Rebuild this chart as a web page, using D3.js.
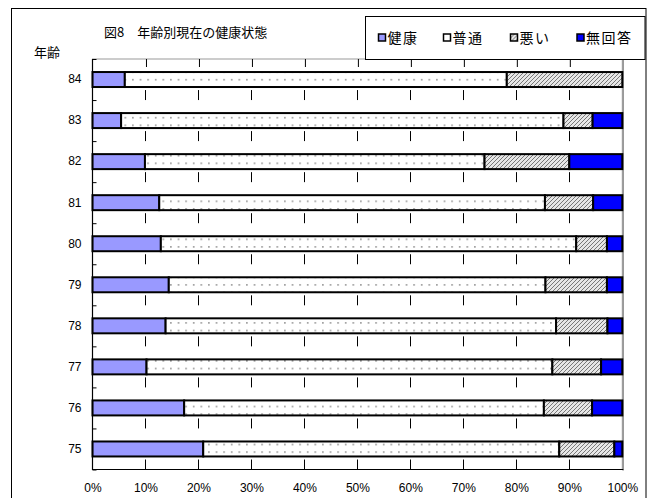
<!DOCTYPE html>
<html><head><meta charset="utf-8">
<script src="https://cdn.jsdelivr.net/npm/d3@7"></script>
<style>
html,body{margin:0;padding:0;background:#fff;}
svg text{font-family:"Liberation Sans","Noto Sans CJK JP",sans-serif;}
.jp{font-family:"Noto Sans CJK JP",sans-serif;}
</style></head>
<body><svg id="c" width="648" height="498"></svg>
<script>
const title = "図8\u3000年齢別現在の健康状態";
const yTitle = "年齢";
const categories = ["84","83","82","81","80","79","78","77","76","75"];
const seriesNames = ["健康","普通","悪い","無回答"];
const healthy  = [6.1, 5.4, 9.9, 12.6, 12.9, 14.4, 13.8, 10.2, 17.3, 20.9];
const normal   = [72.1, 83.5, 64.1, 72.8, 78.4, 71.1, 73.7, 76.6, 67.9, 67.2];
const bad      = [21.8, 5.5, 16.0, 9.1, 5.8, 11.6, 9.7, 9.2, 9.1, 10.4];
const noAnswer = [0.0, 5.6, 10.0, 5.5, 2.9, 2.9, 2.8, 4.0, 5.7, 1.5];
const xTicks = [0,10,20,30,40,50,60,70,80,90,100];

const svg = d3.select("#c");
const defs = svg.append("defs");
// dotted pattern
const pd = defs.append("pattern").attr("id","dots").attr("patternUnits","userSpaceOnUse")
  .attr("width",7.6).attr("height",7.6);
pd.append("rect").attr("width",7.6).attr("height",7.6).attr("fill","#fff");
pd.append("rect").attr("x",3).attr("y",3).attr("width",1.4).attr("height",1.4).attr("fill","#777");
// hatch pattern
const ph = defs.append("pattern").attr("id","hatch").attr("patternUnits","userSpaceOnUse")
  .attr("width",4).attr("height",4);
ph.append("rect").attr("width",4).attr("height",4).attr("fill","#e6e6e6");
ph.append("path").attr("d","M-1,1 L1,-1 M0,4 L4,0 M3,5 L5,3").attr("stroke","#777").attr("stroke-width",1);

const fills = ["#9999ff","url(#dots)","url(#hatch)","#0000ff"];
const swatchFills = ["#9999ff","#ffffff","url(#hatch)","#0000ff"];

// outer frame
svg.append("rect").attr("x",11.5).attr("y",8.5).attr("width",634.5).attr("height",495)
  .attr("fill","#fff").attr("stroke","#000").attr("stroke-width",1);

const L = 92.5, R = 622.3, T = 59, B = 469.5;
const x = d3.scaleLinear().domain([0,100]).range([L,R]);
const y = d3.scaleBand().domain(categories).range([T,B]).paddingInner(0.635).paddingOuter(0.3175);
const yb = d3.scaleLinear().domain([0,categories.length]).range([T,B]);

// plot area border
svg.append("rect").attr("x",L).attr("y",T).attr("width",R-L).attr("height",B-T)
  .attr("fill","#fff").attr("stroke","#999").attr("stroke-width",1);
svg.append("line").attr("x1",R+0.8).attr("x2",R+0.8).attr("y1",T).attr("y2",B+1)
  .attr("stroke","#999").attr("stroke-width",1.8);

// gridlines (dashed, dashes ending at band boundaries)
const step = y.step();
const grid = svg.append("g");
grid.selectAll("line.g").data(xTicks.filter(d=>d>0&&d<100)).join("line")
  .attr("x1",d=>Math.round(x(d))+0.5).attr("x2",d=>Math.round(x(d))+0.5)
  .attr("y1",T).attr("y2",B)
  .attr("stroke","#000").attr("stroke-width",1)
  .attr("stroke-dasharray",`10,${step-10}`).attr("stroke-dashoffset",10);
// top inner ticks
svg.append("g").attr("transform",`translate(0,${T})`)
  .call(d3.axisTop(x).tickValues(xTicks.filter(d=>d>0&&d<100)).tickSize(-8).tickFormat(""))
  .call(g=>{g.select(".domain").remove(); g.selectAll("line").attr("stroke","#000").attr("transform","translate(0.5,0)");});

// stacked bars
const rows = categories.map((c,i)=>({cat:c, vals:[healthy[i],normal[i],bad[i],noAnswer[i]]}));
const stackData = rows.map(r=>{const o={cat:r.cat}; seriesNames.forEach((s,j)=>o[s]=r.vals[j]); return o;});
const stacked = d3.stack().keys(seriesNames)(stackData);
stacked.forEach((layer,k)=>{
  svg.append("g").selectAll("rect").data(layer.filter(d=>d[1]-d[0]>0)).join("rect")
    .attr("x",d=>x(d[0])).attr("width",d=>x(d[1])-x(d[0]))
    .attr("y",d=>y(d.data.cat)).attr("height",y.bandwidth())
    .attr("fill",fills[k]).attr("stroke","#000").attr("stroke-width",2);
});

// left axis
svg.append("line").attr("x1",L).attr("x2",L).attr("y1",T).attr("y2",B+0.5).attr("stroke","#000").attr("stroke-width",1.2);
svg.append("g").attr("transform",`translate(${L},0)`)
  .call(d3.axisRight(yb).ticks(10).tickSize(4).tickFormat(""))
  .call(g=>{g.select(".domain").remove(); g.selectAll("line").attr("stroke","#000");});
svg.append("g").attr("transform",`translate(${L},0)`)
  .call(d3.axisLeft(y).tickSize(0).tickPadding(11))
  .call(g=>{g.select(".domain").remove(); g.selectAll("text").attr("font-size",12).attr("fill","#000")
    .style("font-family",'"Liberation Sans",sans-serif');});
// bottom axis
svg.append("line").attr("x1",L).attr("x2",R+1).attr("y1",B).attr("y2",B).attr("stroke","#000").attr("stroke-width",1.2);
svg.append("g").attr("transform",`translate(0,${B})`)
  .call(d3.axisBottom(x).tickValues(xTicks).tickSize(0).tickPadding(14).tickFormat(d=>d+"%"))
  .call(g=>{g.select(".domain").remove(); g.selectAll("text").attr("font-size",12).attr("fill","#000")
    .style("font-family",'"Liberation Sans",sans-serif');});

// titles
svg.append("text").attr("class","jp").attr("x",104).attr("y",37).attr("font-size",13).text(title);
svg.append("text").attr("class","jp").attr("x",34).attr("y",57).attr("font-size",13).text(yTitle);

// legend
svg.append("rect").attr("x",365.5).attr("y",16.5).attr("width",279.5).attr("height",43)
  .attr("fill","#fff").attr("stroke","#000").attr("stroke-width",1);
const legX = [378.5, 443.5, 510.5, 577];
const lg = svg.append("g").selectAll("g").data(seriesNames).join("g")
  .attr("transform",(d,i)=>`translate(${legX[i]},38)`);
lg.append("rect").attr("x",0).attr("y",-4).attr("width",7).attr("height",7)
  .attr("fill",(d,i)=>swatchFills[i]).attr("stroke","#000").attr("stroke-width",1.5);
lg.append("text").attr("class","jp").attr("x",9).attr("y",5).attr("font-size",14)
  .attr("letter-spacing",1.5).text(d=>d);
</script></body></html>
